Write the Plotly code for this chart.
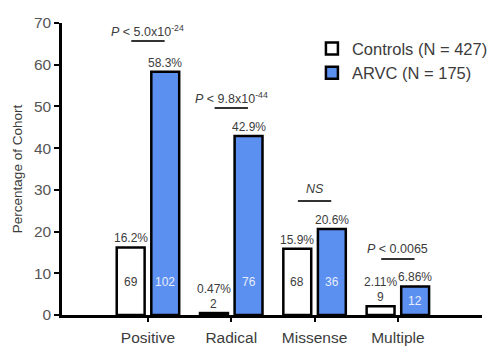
import plotly.graph_objects as go

categories = ["Positive", "Radical", "Missense", "Multiple"]
controls_pct = [16.2, 0.47, 15.9, 2.11]
arvc_pct = [58.3, 42.9, 20.6, 6.86]
controls_n = [69, 2, 68, 9]
arvc_n = [102, 76, 36, 12]
controls_lbl = ["16.2%", "0.47%", "15.9%", "2.11%"]
arvc_lbl = ["58.3%", "42.9%", "20.6%", "6.86%"]
p_labels = ["<i>P</i> < 5.0x10<sup>-24</sup>", "<i>P</i> < 9.8x10<sup>-44</sup>",
            "<i>NS</i>", "<i>P</i> < 0.0065"]
p_text_y = [68.1, 52.0, 30.2, 15.8]
p_line_y = [65.7, 49.6, 27.3, 13.4]

FONT = "Liberation Sans, Arial, sans-serif"
BLUE = "#5B8FF0"
TXT = "#3c3c3c"

xs = list(range(len(categories)))

fig = go.Figure()
fig.add_trace(go.Bar(
    x=xs, y=controls_pct, name="Controls (N = 427)",
    width=0.335, offset=-0.375,
    marker=dict(color="white", line=dict(color="black", width=2.5)),
))
fig.add_trace(go.Bar(
    x=xs, y=arvc_pct, name="ARVC (N = 175)",
    width=0.335, offset=0.04,
    marker=dict(color=BLUE, line=dict(color="black", width=2.5)),
))

ann = []
cx_c = -0.2075
cx_a = 0.2075
for i in xs:
    if controls_pct[i] < 5:
        ann.append(dict(x=i + cx_c, y=controls_pct[i], text=str(controls_n[i]),
                        yanchor="bottom", yshift=0, showarrow=False,
                        font=dict(size=12, color=TXT, family=FONT)))
        ann.append(dict(x=i + cx_c, y=controls_pct[i], text=controls_lbl[i],
                        yanchor="bottom", yshift=15, showarrow=False,
                        font=dict(size=12, color=TXT, family=FONT)))
    else:
        ann.append(dict(x=i + cx_c, y=controls_pct[i], text=controls_lbl[i],
                        yanchor="bottom", yshift=0, showarrow=False,
                        font=dict(size=12, color=TXT, family=FONT)))
        ann.append(dict(x=i + cx_c, y=7.9, text=str(controls_n[i]),
                        showarrow=False,
                        font=dict(size=12, color=TXT, family=FONT)))
    ann.append(dict(x=i + cx_a, y=arvc_pct[i], text=arvc_lbl[i],
                    yanchor="bottom", yshift=0, showarrow=False,
                    font=dict(size=12, color=TXT, family=FONT)))
    ann.append(dict(x=i + cx_a, y=min(7.9, arvc_pct[i] / 2), text=str(arvc_n[i]),
                    showarrow=False,
                    font=dict(size=12, color="#e8eefc", family=FONT)))
    ann.append(dict(x=i, y=p_text_y[i], text=p_labels[i], showarrow=False,
                    font=dict(size=12.5, color=TXT, family=FONT)))
    fig.add_shape(type="line", x0=i - 0.2, x1=i + 0.2, y0=p_line_y[i], y1=p_line_y[i],
                  xref="x", yref="y", line=dict(color="#333333", width=2))

fig.update_layout(
    width=493, height=353,
    margin=dict(l=62, r=11, t=23, b=38, autoexpand=False),
    paper_bgcolor="white", plot_bgcolor="white",
    barmode="overlay",
    font=dict(family=FONT, color=TXT),
    annotations=ann,
    showlegend=True,
    legend=dict(x=1.026, y=0.972, xanchor="right", yanchor="top",
                font=dict(size=16.5, color=TXT, family=FONT),
                bgcolor="rgba(0,0,0,0)"),
    xaxis=dict(range=[-1.032, 4.01], tickmode="array", tickvals=xs, ticktext=categories,
               showline=True, linecolor="black", linewidth=2.5, ticks="outside",
               ticklen=4, tickwidth=2, tickcolor="black", showgrid=False, zeroline=False,
               ticklabelstandoff=3, automargin=False,
               tickfont=dict(size=15.5, color=TXT, family=FONT)),
    yaxis=dict(range=[0, 70], tickmode="array", tickvals=[0, 10, 20, 30, 40, 50, 60, 70],
               showline=True, linecolor="black", linewidth=2.5, ticks="outside",
               ticklen=5, tickwidth=2, tickcolor="black", showgrid=False, zeroline=False,
               automargin=False,
               tickfont=dict(size=15.5, color="#555555", family=FONT),
               title=dict(text="Percentage of Cohort", font=dict(size=13.5, color=TXT, family=FONT),
                          standoff=9)),
)

fig.write_html("out.html")
